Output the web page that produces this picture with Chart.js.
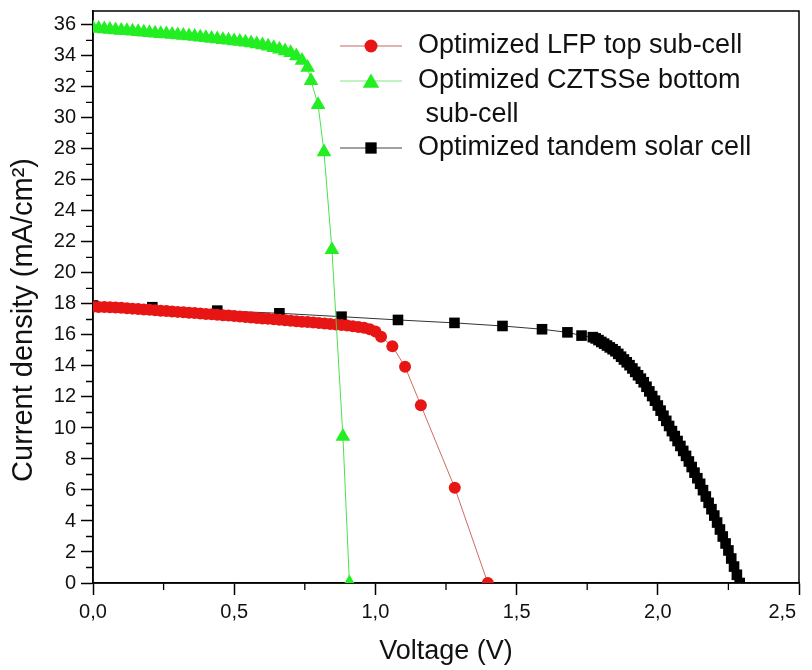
<!DOCTYPE html>
<html>
<head>
<meta charset="utf-8">
<script src="https://cdn.jsdelivr.net/npm/chart.js@4.4.0/dist/chart.umd.min.js"></script>
<style>
html,body{margin:0;padding:0;background:#fff;}
canvas{display:block;}
</style>
</head>
<body>
<canvas id="c" width="812" height="670"></canvas>
<script>
// ---- data ----
const lfpV = [0,0.02,0.04,0.06,0.08,0.10,0.12,0.14,0.16,0.18,0.20,0.22,0.24,0.26,0.28,0.30,0.32,0.34,0.36,0.38,0.40,0.42,0.44,0.46,0.48,0.50,0.52,0.54,0.56,0.58,0.60,0.62,0.64,0.66,0.68,0.70,0.72,0.74,0.76,0.78,0.80,0.82,0.84,0.86,0.88,0.90,0.92,0.94,0.96,0.98,1.00,1.02,1.06,1.105,1.161,1.281,1.398];
const lfpJ = [17.82,17.81,17.8,17.79,17.77,17.75,17.73,17.7,17.68,17.65,17.62,17.6,17.57,17.54,17.51,17.49,17.46,17.43,17.41,17.38,17.35,17.33,17.3,17.27,17.25,17.22,17.19,17.16,17.13,17.1,17.07,17.04,17.01,16.98,16.95,16.92,16.89,16.86,16.83,16.8,16.77,16.74,16.71,16.68,16.65,16.61,16.57,16.52,16.46,16.37,16.22,15.88,15.28,13.95,11.46,6.14,0];

const cztsV = [0,0.02,0.04,0.06,0.08,0.10,0.12,0.14,0.16,0.18,0.20,0.22,0.24,0.26,0.28,0.30,0.32,0.34,0.36,0.38,0.40,0.42,0.44,0.46,0.48,0.50,0.52,0.54,0.56,0.58,0.60,0.62,0.64,0.66,0.68,0.70,0.72,0.74,0.76,0.772,0.797,0.818,0.846,0.885,0.908];
const cztsJ = [35.8,35.77,35.74,35.71,35.68,35.65,35.62,35.59,35.56,35.53,35.5,35.47,35.44,35.41,35.38,35.35,35.32,35.29,35.25,35.21,35.17,35.13,35.09,35.05,35.01,34.97,34.93,34.88,34.83,34.77,34.7,34.62,34.53,34.43,34.32,34.2,34.0,33.7,33.25,32.4,30.86,27.8,21.5,9.45,0];

const tandemV = [0,0.21,0.44,0.66,0.88,1.08,1.28,1.45,1.59,1.68,1.73,1.77,1.78,1.79,1.80,1.81,1.82,1.83,1.84,1.85,1.86,1.87,1.88,1.89,1.90,1.91,1.92,1.93,1.94,1.95,1.96,1.97,1.98,1.99,2.00,2.01,2.02,2.03,2.04,2.05,2.06,2.07,2.08,2.09,2.10,2.11,2.12,2.13,2.14,2.15,2.16,2.17,2.18,2.19,2.20,2.21,2.22,2.23,2.24,2.25,2.26,2.27,2.28,2.29];
const tandemJ = [17.9,17.79,17.57,17.4,17.18,16.97,16.78,16.58,16.37,16.17,15.96,15.86,15.78,15.67,15.55,15.44,15.32,15.2,15.08,14.95,14.78,14.6,14.42,14.24,14.05,13.84,13.62,13.4,13.18,12.95,12.66,12.36,12.06,11.76,11.45,11.12,10.79,10.46,10.13,9.8,9.48,9.16,8.84,8.52,8.2,7.84,7.48,7.12,6.76,6.4,5.99,5.58,5.17,4.76,4.35,3.9,3.45,3.0,2.55,2.1,1.58,1.06,0.53,0];

const seriesNames = ['Optimized LFP top sub-cell', 'Optimized CZTSSe bottom', ' sub-cell', 'Optimized tandem solar cell'];
const xTicks = [0,0.5,1.0,1.5,2.0,2.5];
const xMinor = [0.25,0.75,1.25,1.75,2.25];
const yTicks = [0,2,4,6,8,10,12,14,16,18,20,22,24,26,28,30,32,34,36];
const yMinor = [1,3,5,7,9,11,13,15,17,19,21,23,25,27,29,31,33,35];
const xTitle = 'Voltage (V)';
const yTitle = 'Current density (mA/cm\u00B2)';

// ---- chart ----
const pts = (xs, ys) => xs.map((v, i) => ({x: v, y: ys[i]}));
const FONT = "'Liberation Sans', Arial, sans-serif";

const framePlugin = {
  id: 'frame',
  beforeDatasetsDraw(chart) {
    const {ctx, chartArea: a, scales: {x, y}} = chart;
    ctx.save();
    ctx.strokeStyle = '#000';
    ctx.lineWidth = 1.5;
    ctx.strokeRect(a.left, a.top, a.right - a.left, a.bottom - a.top);
    ctx.lineWidth = 1.3;
    ctx.beginPath();
    yMinor.forEach(v => { const p = y.getPixelForValue(v); ctx.moveTo(a.left - 7, p); ctx.lineTo(a.left, p); });
    xMinor.forEach(v => { const p = x.getPixelForValue(v); ctx.moveTo(p, a.bottom); ctx.lineTo(p, a.bottom + 7); });
    ctx.stroke();
    ctx.restore();
  }
};

const legendPlugin = {
  id: 'customLegend',
  afterDraw(chart) {
    const ctx = chart.ctx;
    const a = chart.chartArea;
    // y-axis title
    ctx.save();
    ctx.font = '29px ' + FONT;
    ctx.fillStyle = '#111';
    ctx.textAlign = 'center';
    ctx.textBaseline = 'middle';
    ctx.translate(24, (a.top + a.bottom) / 2 + 23);
    ctx.rotate(-Math.PI / 2);
    ctx.fillText(yTitle, 0, 0);
    ctx.restore();

    const rows = [
      {text: seriesNames[0], y: 46, style: 'circle', r: 6.5, fill: '#e81515', line: '#c86a60'},
      {text: seriesNames[1], y: 81, style: 'triangle', r: 9.5, fill: '#22ee22', line: '#80e880'},
      {text: seriesNames[2], y: 115, style: null},
      {text: seriesNames[3], y: 148, style: 'rect', r: 8, fill: '#000', line: '#444'}
    ];
    ctx.save();
    ctx.font = '27px ' + FONT;
    ctx.textBaseline = 'middle';
    ctx.textAlign = 'left';
    rows.forEach(r => {
      if (r.style) {
        ctx.strokeStyle = r.line;
        ctx.lineWidth = 1.2;
        ctx.beginPath();
        ctx.moveTo(340, r.y); ctx.lineTo(402, r.y);
        ctx.stroke();
        ctx.fillStyle = r.fill;
        Chart.helpers.drawPoint(ctx, {pointStyle: r.style, radius: r.r, rotation: 0, borderWidth: 0}, 371, r.y + (r.style === 'triangle' ? 2 : 0));
      }
      ctx.fillStyle = '#111';
      ctx.fillText(r.text, 418, r.y);
    });
    ctx.restore();
  }
};

new Chart(document.getElementById('c'), {
  type: 'line',
  data: {
    datasets: [
      {
        label: seriesNames[0], data: pts(lfpV, lfpJ), order: 2,
        borderColor: 'rgba(200,80,70,0.85)', borderWidth: 1,
        pointStyle: 'circle', pointRadius: 6, pointBackgroundColor: '#e81515', pointBorderWidth: 0
      },
      {
        label: seriesNames[1] + seriesNames[2], data: pts(cztsV, cztsJ), order: 1,
        borderColor: 'rgba(60,220,60,0.9)', borderWidth: 1,
        pointStyle: 'triangle', pointRadius: 8.5, pointBackgroundColor: '#22ee22', pointBorderWidth: 0
      },
      {
        label: seriesNames[3], data: pts(tandemV, tandemJ), order: 3,
        borderColor: '#333', borderWidth: 1,
        pointStyle: 'rect', pointRadius: 7.5, pointBackgroundColor: '#000', pointBorderWidth: 0
      }
    ]
  },
  options: {
    responsive: false,
    animation: false,
    parsing: false,
    layout: {padding: {top: 11, right: 13, left: 0, bottom: 0}},
    plugins: {legend: {display: false}, tooltip: {enabled: false}},
    elements: {line: {tension: 0}},
    scales: {
      x: {
        type: 'linear', min: 0, max: 2.5,
        afterBuildTicks: s => { s.ticks = xTicks.map(v => ({value: v})); },
        afterFit: s => { s.height = 87; s.paddingLeft = 0; s.paddingRight = 0; },
        ticks: {
          autoSkip: false, maxRotation: 0, padding: 5, color: '#111',
          font: {family: FONT, size: 20},
          callback: (v, i, arr) => Number(v).toFixed(1).replace('.', ',') + (i === arr.length - 1 ? '      ' : '')
        },
        grid: {drawOnChartArea: false, drawTicks: true, tickLength: 12, tickWidth: 1.5, tickColor: '#000'},
        border: {display: true, color: '#000', width: 1.5},
        title: {display: true, text: xTitle, color: '#111', font: {family: FONT, size: 27, lineHeight: 1}, padding: {top: 0, bottom: 5}}
      },
      y: {
        type: 'linear', min: 0, max: 36.9,
        afterBuildTicks: s => { s.ticks = yTicks.map(v => ({value: v})); },
        afterFit: s => { s.width = 93; s.paddingTop = 0; s.paddingBottom = 0; },
        ticks: {
          autoSkip: false, padding: 5, color: '#111',
          font: {family: FONT, size: 20},
          callback: v => String(v)
        },
        grid: {drawOnChartArea: false, drawTicks: true, tickLength: 12, tickWidth: 1.5, tickColor: '#000'},
        border: {display: true, color: '#000', width: 1.5},
        title: {display: false}
      }
    }
  },
  plugins: [framePlugin, legendPlugin]
});
</script>
</body>
</html>
